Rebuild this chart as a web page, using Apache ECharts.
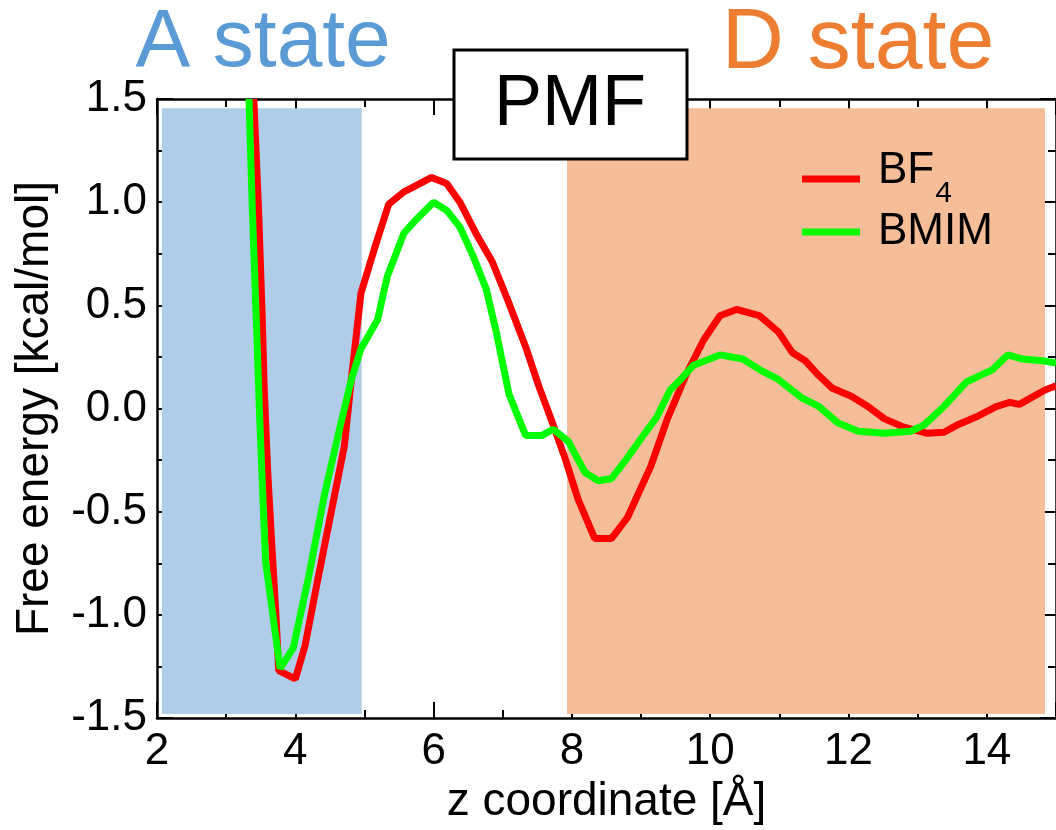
<!DOCTYPE html>
<html><head><meta charset="utf-8">
<script src="https://cdn.jsdelivr.net/npm/echarts@6/dist/echarts.min.js"></script>
<style>html,body{margin:0;padding:0;background:#fff}#c{width:1056px;height:830px}</style>
</head><body><div id="c"></div>
<script>
const seriesNames = ['BF4', 'BMIM'];
const bf4X = [3.40, 3.47, 3.52, 3.55, 3.60, 3.66, 3.72, 3.76, 4.00, 4.14, 4.33, 4.52, 4.71, 4.81, 4.95, 5.14, 5.35, 5.57, 5.80, 5.97, 6.19, 6.38, 6.61, 6.85, 7.09, 7.33, 7.52, 7.73, 7.90, 8.09, 8.33, 8.57, 8.80, 9.14, 9.38, 9.66, 9.90, 10.14, 10.38, 10.71, 10.99, 11.19, 11.38, 11.57, 11.76, 12.04, 12.28, 12.52, 12.80, 13.14, 13.38, 13.57, 13.85, 14.14, 14.33, 14.47, 14.84, 15.00];
const bf4Y = [1.50, 0.95, 0.46, 0.10, -0.30, -0.66, -1.00, -1.27, -1.31, -1.15, -0.82, -0.50, -0.18, 0.14, 0.56, 0.77, 0.99, 1.05, 1.09, 1.12, 1.09, 1.00, 0.85, 0.71, 0.51, 0.30, 0.11, -0.08, -0.24, -0.44, -0.63, -0.63, -0.53, -0.28, -0.05, 0.17, 0.33, 0.45, 0.48, 0.45, 0.37, 0.27, 0.23, 0.16, 0.10, 0.06, 0.01, -0.05, -0.09, -0.12, -0.115, -0.08, -0.04, 0.01, 0.03, 0.02, 0.09, 0.11];
const bmimX = [3.33, 3.38, 3.45, 3.48, 3.52, 3.57, 3.78, 3.97, 4.19, 4.42, 4.66, 4.81, 4.95, 5.19, 5.33, 5.57, 5.76, 6.00, 6.19, 6.38, 6.57, 6.76, 6.90, 7.09, 7.33, 7.57, 7.73, 7.95, 8.19, 8.38, 8.57, 8.80, 8.99, 9.23, 9.42, 9.57, 9.76, 10.14, 10.47, 10.76, 10.99, 11.33, 11.57, 11.85, 12.14, 12.52, 12.90, 13.09, 13.38, 13.71, 14.09, 14.30, 14.52, 14.84, 15.00];
const bmimY = [1.50, 0.95, 0.30, 0.00, -0.34, -0.74, -1.26, -1.16, -0.82, -0.42, -0.07, 0.14, 0.29, 0.43, 0.64, 0.85, 0.92, 1.00, 0.96, 0.88, 0.74, 0.58, 0.38, 0.07, -0.13, -0.13, -0.10, -0.16, -0.31, -0.35, -0.34, -0.24, -0.15, -0.04, 0.09, 0.14, 0.21, 0.26, 0.24, 0.18, 0.14, 0.05, 0.01, -0.07, -0.11, -0.12, -0.11, -0.08, 0.01, 0.13, 0.19, 0.26, 0.24, 0.23, 0.22];
const xTickLabels = ['2', '4', '6', '8', '10', '12', '14'];
const yTickLabels = ['-1.5', '-1.0', '-0.5', '0.0', '0.5', '1.0', '1.5'];
const stateARange = [2.07, 4.96];
const stateDRange = [7.93, 14.84];
const stateYRange = [-1.48, 1.455];
const stateLabels = ['A state', 'D state'];
const panelTitle = 'PMF';
const xName = 'z coordinate [Å]';
const yName = 'Free energy [kcal/mol]';

const FONT = '"Liberation Sans", Arial, sans-serif';
const zip = (xs, ys) => xs.map((x, i) => [x, ys[i]]);

const tickLine = { color: '#000', width: 2 };
function xAx(pos, labels) {
  return {
    type: 'value', min: 2, max: 15, interval: 2, position: pos,
    axisLine: { show: true, onZero: false, lineStyle: { color: '#000', width: 2.5 } },
    axisTick: { show: true, inside: true, length: 16, lineStyle: tickLine },
    minorTick: { show: true, splitNumber: 2, length: 8, lineStyle: tickLine },
    splitLine: { show: false }, minorSplitLine: { show: false },
    axisLabel: labels ? {
      show: true, margin: 12, fontSize: 44, color: '#000', fontFamily: FONT,
      showMaxLabel: false,
      formatter: v => xTickLabels.includes(String(v)) ? String(v) : ''
    } : { show: false },
    name: labels ? xName : '', nameLocation: 'middle', nameGap: 56,
    nameTextStyle: { fontSize: 46, color: '#000', fontFamily: FONT }
  };
}
function yAx(pos, labels) {
  return {
    type: 'value', min: -1.5, max: 1.5, interval: 0.5, position: pos,
    axisLine: { show: true, onZero: false, lineStyle: { color: '#000', width: 2.5 } },
    axisTick: { show: true, inside: true, length: 16, lineStyle: tickLine },
    minorTick: { show: true, splitNumber: 2, length: 8, lineStyle: tickLine },
    splitLine: { show: false }, minorSplitLine: { show: false },
    axisLabel: labels ? {
      show: true, margin: 10, fontSize: 44, color: '#000', fontFamily: FONT,
      formatter: v => yTickLabels[Math.round((v + 1.5) / 0.5)] || ''
    } : { show: false },
    name: labels ? yName : '', nameLocation: 'middle', nameGap: 99, nameRotate: 90,
    nameTextStyle: { fontSize: 46, color: '#000', fontFamily: FONT }
  };
}

const chart = echarts.init(document.getElementById('c'), null, { renderer: 'canvas' });
chart.setOption({
  animation: false,
  backgroundColor: '#fff',
  grid: { left: 157, top: 99, width: 907, height: 621, containLabel: false },
  xAxis: [xAx('bottom', true), xAx('top', false)],
  yAxis: [yAx('left', true), yAx('right', false)],
  legend: {
    data: seriesNames, orient: 'vertical', left: 802, top: 149, padding: 0,
    itemWidth: 58, itemHeight: 7, itemGap: -7, icon: 'rect', selectedMode: false,
    formatter: n => n === 'BF4' ? '{b|BF}{s|4}' : '{c|BMIM}',
    textStyle: {
      rich: {
        b: { fontSize: 44, lineHeight: 44, fontFamily: FONT, color: '#000', padding: [0, 0, 16, 13] },
        s: { fontSize: 30, lineHeight: 30, fontFamily: FONT, color: '#000', padding: [30, 0, 0, 1] },
        c: { fontSize: 44, lineHeight: 44, fontFamily: FONT, color: '#000', padding: [8, 0, 8, 13] }
      }
    }
  },
  series: [
    {
      name: 'regions', type: 'line', data: [], silent: true, z: 1,
      markArea: {
        silent: true,
        data: [
          [{ xAxis: stateARange[0], yAxis: stateYRange[1], itemStyle: { color: '#afcce8' } },
           { xAxis: stateARange[1], yAxis: stateYRange[0] }],
          [{ xAxis: stateDRange[0], yAxis: stateYRange[1], itemStyle: { color: '#f5bd98' } },
           { xAxis: stateDRange[1], yAxis: stateYRange[0] }]
        ]
      }
    },
    {
      name: seriesNames[0], type: 'line', data: zip(bf4X, bf4Y), symbol: 'none', showSymbol: false,
      lineStyle: { color: '#ff0000', width: 7 }, itemStyle: { color: '#ff0000' }, z: 3, clip: true
    },
    {
      name: seriesNames[1], type: 'line', data: zip(bmimX, bmimY), symbol: 'none', showSymbol: false,
      lineStyle: { color: '#00ff00', width: 7 }, itemStyle: { color: '#00ff00' }, z: 4, clip: true
    }
  ],
  graphic: [
    { type: 'text', z: 100, style: { text: stateLabels[0], x: 263, y: 43, fontSize: 82, fontFamily: FONT, fill: '#5b9bd5', textAlign: 'center', textVerticalAlign: 'middle', align: 'center', verticalAlign: 'middle' } },
    { type: 'text', z: 100, style: { text: stateLabels[1], x: 858, y: 44, fontSize: 86, fontFamily: FONT, fill: '#ed7d31', textAlign: 'center', textVerticalAlign: 'middle', align: 'center', verticalAlign: 'middle' } },
    { type: 'rect', z: 100, shape: { x: 454, y: 50, width: 233, height: 109 }, style: { fill: '#fff', stroke: '#000', lineWidth: 3 } },
    { type: 'text', z: 101, style: { text: panelTitle, x: 570, y: 105, fontSize: 72, fontFamily: FONT, fill: '#000', textAlign: 'center', textVerticalAlign: 'middle', align: 'center', verticalAlign: 'middle' } }
  ]
});
</script>
</body></html>
